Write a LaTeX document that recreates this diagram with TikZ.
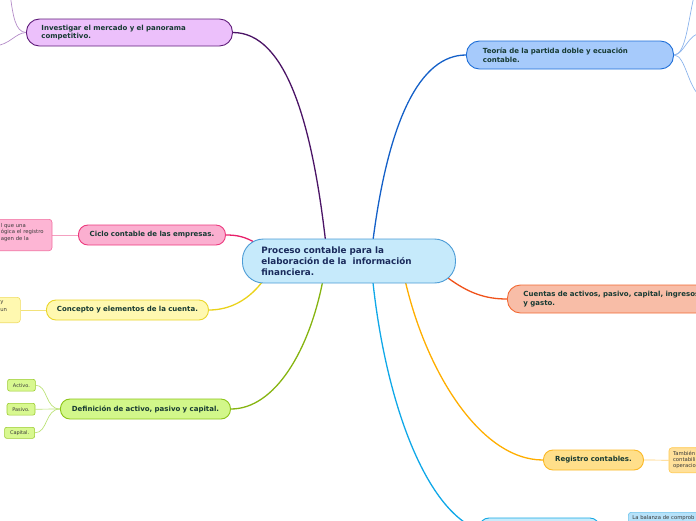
\documentclass[tikz,border=0pt]{standalone}
\usepackage{fontspec}
\setmainfont{DejaVu Sans}
\pgfdeclarelayer{bg}
\pgfsetlayers{bg,main}
\definecolor{txt}{HTML}{173A33}
\definecolor{ctxt}{HTML}{1A2B5C}
\definecolor{subtxt}{HTML}{3A3A3A}
\definecolor{cfill}{HTML}{C6EAFB}
\definecolor{cdraw}{HTML}{4C9CD6}
\definecolor{purfill}{HTML}{ECC0FB}
\definecolor{purdraw}{HTML}{5F1C7A}
\definecolor{purline}{HTML}{4B1466}
\definecolor{purthin}{HTML}{B48CC8}
\definecolor{blufill}{HTML}{A6CAFB}
\definecolor{bludraw}{HTML}{1F6FD8}
\definecolor{bluline}{HTML}{1460C8}
\definecolor{bluthin}{HTML}{8CB4EC}
\definecolor{pinkfill}{HTML}{FBAFD0}
\definecolor{pinkdraw}{HTML}{EC3A7E}
\definecolor{pinkline}{HTML}{E8206A}
\definecolor{pinksubfill}{HTML}{FDB5D4}
\definecolor{pinksubdraw}{HTML}{F270A0}
\definecolor{pinkthin}{HTML}{F4A0C0}
\definecolor{yelfill}{HTML}{FFF8B0}
\definecolor{yeldraw}{HTML}{EAD52A}
\definecolor{yelline}{HTML}{EAD21A}
\definecolor{yelsubdraw}{HTML}{F0DC60}
\definecolor{yelthin}{HTML}{F2E27A}
\definecolor{grnfill}{HTML}{D2F78A}
\definecolor{grndraw}{HTML}{8CC418}
\definecolor{grnline}{HTML}{86B410}
\definecolor{grnsubfill}{HTML}{D8F890}
\definecolor{grnsubdraw}{HTML}{9CCC30}
\definecolor{grnthin}{HTML}{BCE278}
\definecolor{salfill}{HTML}{F8BDA7}
\definecolor{saldraw}{HTML}{F26A34}
\definecolor{salline}{HTML}{F0521A}
\definecolor{orfill}{HTML}{FFDF8A}
\definecolor{ordraw}{HTML}{FBB824}
\definecolor{orline}{HTML}{FFAE00}
\definecolor{orsubfill}{HTML}{FFE09A}
\definecolor{orsubdraw}{HTML}{FFC84C}
\definecolor{orthin}{HTML}{FFD070}
\definecolor{cyline}{HTML}{10A8E8}
\definecolor{cydraw}{HTML}{14A8E4}
\definecolor{cyfill}{HTML}{C8ECFC}
\definecolor{cysubfill}{HTML}{B6E2FA}
\definecolor{cysubdraw}{HTML}{6CC4EC}
\begin{document}
\begin{tikzpicture}[x=1pt,y=-1pt,
  topic/.style={draw, line width=0.9pt, anchor=west, inner ysep=0pt,
    font=\fontsize{7}{8.8}\selectfont\bfseries, text=txt, align=left},
  onebox/.style={topic, rounded corners=9.5pt, minimum height=20pt, align=center, inner xsep=6pt},
  subbox/.style={draw, line width=0.6pt, rounded corners=3pt, anchor=west, inner ysep=0pt,
    font=\fontsize{5.3}{6.5}\selectfont, text=subtxt, align=left},
  gsub/.style={subbox, fill=grnsubfill, draw=grnsubdraw, rounded corners=2pt, align=center,
    inner xsep=1pt, font=\fontsize{5}{6}\selectfont},
  mainline/.style={line width=1.3pt},
  thinline/.style={line width=0.7pt}]
\useasboundingbox (0,0) rectangle (696,520);
\clip (0,0) rectangle (696,520);

% central topic
\node[topic, font=\fontsize{8.8}{11}\selectfont\bfseries, text=ctxt, fill=cfill, draw=cdraw,
  rounded corners=21pt, minimum height=44pt, inner xsep=19pt, text width=175pt]
  (c) at (242,261) {Proceso contable para la\\elaboración de la\ \ información\\financiera.};

% main topics
\node[topic, fill=purfill, draw=purdraw, rounded corners=13pt, minimum height=27pt,
  inner xsep=15pt, text width=176pt] (inv) at (26,32.5)
  {Investigar el mercado y el panorama\\competitivo.};
\node[topic, fill=blufill, draw=bludraw, rounded corners=13pt, minimum height=28pt,
  inner xsep=16.5pt, text width=174pt] (teo) at (466,55)
  {Teoría de la partida doble y ecuación\\contable.};
\node[onebox, fill=pinkfill, draw=pinkdraw, text width=135pt] (cic) at (78,235)
  {Ciclo contable de las empresas.};
\node[onebox, fill=yelfill, draw=yeldraw, text width=150pt] (con) at (46,310)
  {Concepto y elementos de la cuenta.};
\node[onebox, fill=grnfill, draw=grndraw, text width=158pt] (def) at (60,409)
  {Definición de activo, pasivo y capital.};
\node[topic, fill=salfill, draw=saldraw, rounded corners=13pt, minimum height=28pt,
  inner xsep=16pt, text width=188pt] (cue) at (507,299)
  {Cuentas de activos, pasivo, capital, ingresos\\y gasto.};
\node[onebox, fill=orfill, draw=ordraw, text width=88pt] (reg) at (543,460)
  {Registro contables.};
\node[onebox, fill=cyfill, draw=cydraw, text width=108pt, minimum height=24pt] (bot) at (479,530) {};

% sub topics
\node[subbox, fill=pinksubfill, draw=pinksubdraw, minimum height=31.4pt, inner xsep=6pt,
  text width=45.2pt] (cs) at (-5.5,235) {l que una\\ógica el registro\\agen de la\\\mbox{}};
\node[subbox, fill=yelfill, draw=yelsubdraw, minimum height=25.4pt, inner xsep=6pt,
  text width=14pt, font=\fontsize{5.3}{8}\selectfont] (ys) at (-6,310) {y\\un\\\mbox{}};
\node[gsub, minimum width=27.7pt, minimum height=11.7pt] (act) at (7.3,385.2) {Activo.};
\node[gsub, minimum width=28pt, minimum height=11.7pt] (pas) at (6.7,409.2) {Pasivo.};
\node[gsub, minimum width=30pt, minimum height=11pt] (cap) at (4.3,432.8) {Capital.};
\node[subbox, fill=orsubfill, draw=orsubdraw, minimum height=25pt, inner xsep=4pt,
  text width=32pt, font=\fontsize{5.3}{6}\selectfont] (rs) at (668.7,460.2)
  {También\\contabili\\operacio};
\node[subbox, fill=cysubfill, draw=cysubdraw, anchor=north west, inner ysep=3.5pt, inner xsep=4pt,
  text width=72pt] (bs) at (628,512) {La balanza de comprob};

\coordinate (i1) at (10,-6);
\coordinate (i2) at (-6,46);
\coordinate (t1) at (695,-8);
\coordinate (t2) at (702,33);
\coordinate (t3) at (702,97);

\begin{pgfonlayer}{bg}
\draw[mainline, purline] ([xshift=-23pt,yshift=-6pt]c.north) .. controls (312,120) and (285,32.5) .. (inv.east);
\draw[mainline, bluline] ([xshift=23.5pt,yshift=-6pt]c.north) .. controls (388,120) and (420,55) .. (teo.west);
\draw[mainline, pinkline] ([xshift=13pt,yshift=-4pt]c.north west) .. controls (245,237) and (238,235) .. (cic.east);
\draw[mainline, yelline] ([xshift=-83.5pt,yshift=6pt]c.south) .. controls (250,300) and (230,310) .. (con.east);
\draw[mainline, grnline] ([xshift=-25.5pt,yshift=6pt]c.south) .. controls (310,350) and (275,409) .. (def.east);
\draw[mainline, salline] ([xshift=-10pt,yshift=7pt]c.south east) .. controls (468,293) and (485,299) .. (cue.west);
\draw[mainline, orline] ([xshift=55.5pt,yshift=6pt]c.south) .. controls (425,370) and (480,460) .. (reg.west);
\draw[mainline, cyline] ([xshift=23.5pt,yshift=6pt]c.south) .. controls (385,400) and (425,510) .. (bot.west);

\draw[thinline, purthin] (inv.west) .. controls (15,32) and (13,15) .. (i1);
\draw[thinline, purthin] (inv.west) .. controls (15,33) and (10,45) .. (i2);
\draw[thinline, bluthin] (teo.east) .. controls (686,55) and (688,20) .. (t1);
\draw[thinline, bluthin] (teo.east) .. controls (684,55) and (688,33) .. (t2);
\draw[thinline, bluthin] (teo.east) .. controls (686,55) and (688,90) .. (t3);
\draw[thinline, pinkthin] (cs.east) -- (cic.west);
\draw[thinline, yelthin] (ys.east) -- (con.west);
\draw[thinline, grnthin] (def.west) .. controls (45,409) and (48,385.2) .. (act.east);
\draw[thinline, grnthin] (def.west) -- (pas.east);
\draw[thinline, grnthin] (def.west) .. controls (45,409) and (48,432.8) .. (cap.east);
\draw[thinline, orthin] (reg.east) -- (rs.west);
\end{pgfonlayer}
\end{tikzpicture}
\end{document}
